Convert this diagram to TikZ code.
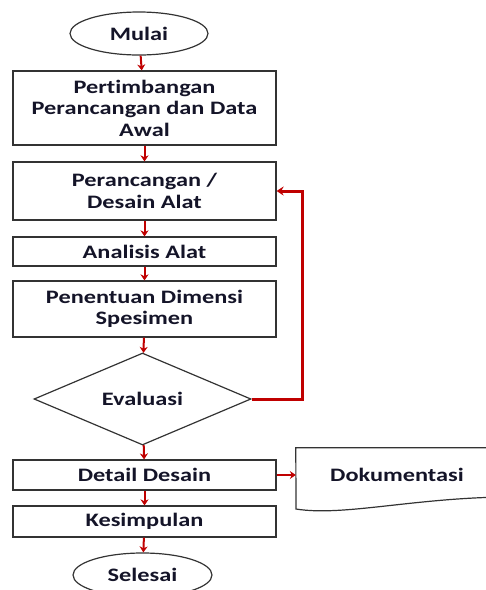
\documentclass[tikz,border=0pt]{standalone}
\usepackage{fontspec}
\setmainfont[FakeStretch=1.28,Ligatures=NoCommon]{Carlito}
\usetikzlibrary{shapes.geometric,arrows.meta}
\definecolor{merah}{RGB}{192,0,0}
\definecolor{tinta}{RGB}{20,20,40}
\tikzset{>=stealth,
  teks/.style={text=tinta, font=\bfseries\fontsize{19}{21.5}\selectfont, align=center, inner sep=0pt},
  blok/.style={teks, draw=black!80, line width=1.2pt, rectangle, minimum width=263pt},
  ujung/.style={teks, draw=black!80, line width=1.2pt, ellipse, minimum width=138pt, minimum height=43pt},
  keputusan/.style={teks, draw=black!80, line width=1.2pt, diamond, aspect=2.36, minimum width=217pt, minimum height=92pt},
  panah/.style={draw=merah, line width=2pt, -{Stealth[length=6pt,width=8pt]}},
  balik/.style={draw=merah, line width=3pt, -{Stealth[length=7pt,width=9pt]}}
}
\begin{document}
\begin{tikzpicture}[x=1pt,y=-1pt]
          \useasboundingbox (0,0) rectangle (486,590);
          \clip (0,0) rectangle (486,590);

          % Flow nodes
          \node[ujung] at (139,33.5) (mulai) {Mulai};
          \node[blok, minimum height=74pt] at (144.5,108) (awal) {Pertimbangan\\Perancangan dan Data\\Awal};
          \node[blok, minimum height=58pt] at (144.5,191) (desain) {Perancangan /\\Desain Alat};
          \node[blok, minimum height=29pt] at (144.5,251.5) (analisis) {Analisis Alat};
          \node[blok, minimum height=56pt] at (144.5,309) (dimensi) {Penentuan Dimensi\\Spesimen};
          \node[keputusan] at (142.5,399) (evaluasi) {Evaluasi};
          \node[blok, minimum height=30pt] at (144.5,475) (detail) {Detail Desain};
          \node[blok, minimum height=31pt] at (144.5,521.5) (simpul) {Kesimpulan};
          \node[ujung, minimum width=139pt, minimum height=44pt] at (142.5,575) (selesai) {Selesai};

          % Document shape
          \node[teks, minimum width=202pt, minimum height=54pt] at (397,475) (dok) {Dokumentasi};
          \draw[black!80, line width=1.2pt] (dok.north east) -- (dok.north west) -- (296,509)
               .. controls (345,517) and (420,496) .. (520,497) -- (520,448);

          % Arrows
          \draw[panah] (mulai) -- (awal);
          \draw[panah] (awal) -- (desain);
          \draw[panah] (desain) -- (analisis);
          \draw[panah] (analisis) -- (dimensi);
          \draw[panah] (dimensi) -- (evaluasi);
          \draw[panah] (evaluasi) -- (detail);
          \draw[panah] (detail) -- (simpul);
          \draw[panah] (simpul) -- (selesai);
          \draw[panah] (detail.east) -- (dok.west);
          \draw[balik] (evaluasi.east) -- ++(51,0) |- (desain.east);

\end{tikzpicture}
\end{document}
